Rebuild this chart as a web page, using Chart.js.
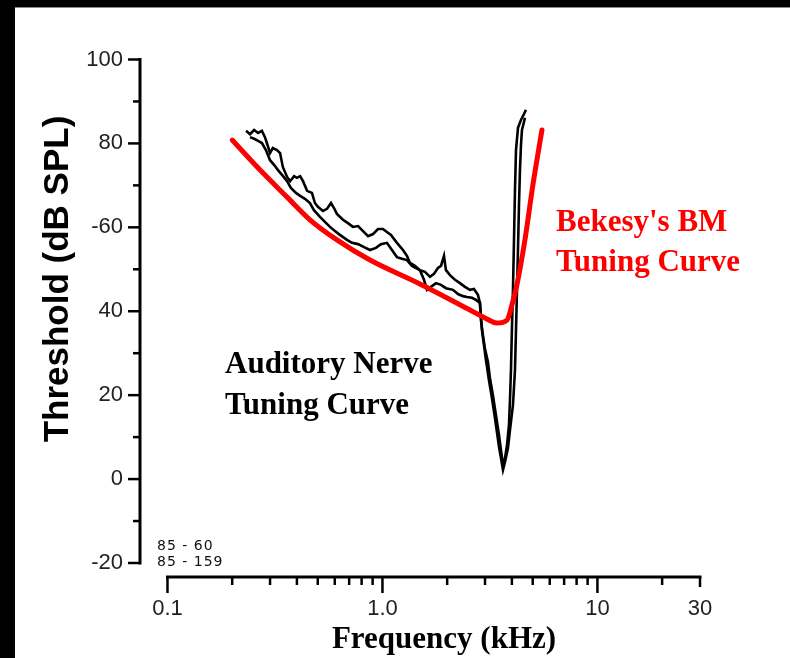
<!DOCTYPE html>
<html>
<head>
<meta charset="utf-8">
<script src="https://cdn.jsdelivr.net/npm/chart.js@4/dist/chart.umd.min.js"></script>
<style>
  html, body { margin: 0; padding: 0; background: #fff; }
  #wrap { width: 790px; height: 658px; }
</style>
</head>
<body>
<div id="wrap"><canvas id="tc" width="790" height="658"></canvas></div>
<script>
// ── DATA ──────────────────────────────────────────────────────────

// Bekesy basilar-membrane tuning curve (kHz, dB SPL)
const bmFreq   = [0.2, 0.269, 0.36, 0.46, 0.614, 0.875, 1.494, 2.553, 3.0, 3.41, 3.80, 4.003, 4.223, 4.60, 5.01, 5.52];
const bmThresh = [80.8, 73.7, 67.2, 61.8, 57.0, 52.2, 46.5, 40.3, 38.4, 37.2, 37.9, 41.5, 46.3, 57.0, 70.1, 83.2];

// auditory nerve fibre, first sweep
const anfFreqA = [0.232, 0.242, 0.253, 0.264, 0.275, 0.284, 0.290, 0.300, 0.309, 0.323, 0.334, 0.344, 0.360, 0.372,
  0.388, 0.400, 0.414, 0.427, 0.446, 0.470, 0.485, 0.501, 0.529, 0.552, 0.576, 0.595, 0.614, 0.655, 0.691, 0.729,
  0.770, 0.812, 0.857, 0.904, 0.953, 1.005, 1.049, 1.095, 1.168, 1.246, 1.300, 1.343, 1.416, 1.494, 1.576, 1.664,
  1.736, 1.812, 1.872, 1.933, 1.974, 2.061, 2.174, 2.294, 2.419, 2.552, 2.664, 2.780, 2.841, 2.871, 2.933, 2.995,
  3.095, 3.162, 3.265, 3.371, 3.484, 3.559, 3.636, 3.715, 3.796, 3.877, 3.919, 3.961, 4.000, 4.047, 4.091, 4.135,
  4.180, 4.270, 4.409, 4.553, 4.652];
const anfThreshA = [83.0, 82.2, 83.2, 82.5, 83.0, 81.5, 80.1, 77.7, 78.9, 78.4, 77.7, 74.4, 72.0, 71.0,
  72.2, 71.8, 72.2, 71.0, 68.7, 68.2, 65.8, 64.9, 63.9, 64.4, 65.8, 64.6, 63.2, 61.8, 61.0, 60.1,
  60.3, 59.1, 57.9, 58.4, 59.6, 59.6, 58.9, 58.2, 56.3, 54.6, 53.2, 51.5, 50.8, 49.8, 49.4, 48.2,
  48.9, 50.3, 50.8, 53.2, 49.8, 48.6, 47.5, 46.7, 45.8, 45.1, 45.3, 43.9, 42.0, 37.9, 34.3, 31.2,
  27.9, 24.1, 20.0, 15.3, 10.5, 6.9, 3.4, 5.0, 8.1, 12.9, 18.9, 26.0, 35.5, 45.1, 57.0, 68.9,
  78.4, 83.7, 85.6, 87.0, 88.0];

// auditory nerve fibre, second sweep
const anfFreqB = [0.242, 0.253, 0.264, 0.275, 0.287, 0.300, 0.313, 0.326, 0.341, 0.360, 0.375, 0.396, 0.414, 0.436,
  0.460, 0.480, 0.512, 0.540, 0.570, 0.601, 0.634, 0.684, 0.721, 0.770, 0.821, 0.875, 0.933, 0.984, 1.049, 1.107,
  1.168, 1.232, 1.300, 1.372, 1.432, 1.494, 1.560, 1.611, 1.681, 1.774, 1.872, 1.974, 2.128, 2.245, 2.369, 2.472,
  2.608, 2.722, 2.841, 2.871, 2.902, 2.965, 3.029, 3.128, 3.230, 3.335, 3.408, 3.484, 3.559, 3.636, 3.715, 3.836,
  3.919, 4.047, 4.135, 4.180, 4.225, 4.270, 4.316, 4.362, 4.409, 4.456, 4.553, 4.600];
const anfThreshB = [81.5, 81.1, 80.6, 80.1, 78.4, 76.0, 74.9, 73.7, 72.5, 71.0, 69.4, 68.2, 67.5, 66.8,
  65.8, 64.1, 62.5, 61.3, 60.1, 59.1, 58.2, 57.0, 56.3, 56.0, 55.3, 54.6, 55.1, 56.0, 56.3, 54.6,
  52.9, 52.5, 52.2, 50.8, 50.3, 49.8, 47.5, 45.1, 45.8, 46.7, 46.3, 45.5, 45.1, 44.1, 43.6, 43.4,
  43.2, 42.7, 42.0, 39.1, 35.5, 32.0, 28.4, 23.6, 19.3, 14.6, 11.2, 7.7, 5.0, 2.2, 4.1, 7.4,
  11.7, 17.7, 26.0, 35.5, 45.1, 54.6, 65.3, 73.7, 79.6, 83.2, 85.1, 86.1];

// axes
const yTicks  = [-20, -10, 0, 10, 20, 30, 40, 50, 60, 70, 80, 90, 100];
const yLabels = { '-20': '-20', '0': '0', '20': '20', '40': '40', '60': '-60', '80': '80', '100': '100' };
const xTicks  = [0.1, 0.2, 0.3, 0.4, 0.5, 0.6, 0.7, 0.8, 0.9, 1, 2, 3, 4, 5, 6, 7, 8, 9, 10, 20, 30];
const xLabels = { '0.1': '0.1', '1': '1.0', '10': '10', '30': '30' };

// ── HELPERS ───────────────────────────────────────────────────────

function pts(xs, ys) {
  return xs.map((x, i) => ({ x, y: ys[i] }));
}

const SANS  = '"Liberation Sans", Arial, sans-serif';
const SERIF = '"Liberation Serif", "Times New Roman", serif';

function txt(ctx, s, x, y, font, color, align = 'left', base = 'alphabetic') {
  ctx.font = font;
  ctx.fillStyle = color;
  ctx.textAlign = align;
  ctx.textBaseline = base;
  ctx.fillText(s, x, y);
}

// frame, axis lines, tick marks and annotations
const decor = {
  id: 'decor',
  beforeDraw(c) {
    const ctx = c.ctx;
    ctx.save();
    ctx.fillStyle = '#fff';
    ctx.fillRect(0, 0, c.width, c.height);
    ctx.fillStyle = '#000';
    ctx.fillRect(0, 0, c.width, 7);
    ctx.fillRect(0, 0, 15, c.height);
    ctx.fillStyle = '#888';
    ctx.fillRect(15, 7, c.width - 15, 1);
    ctx.restore();
  },
  afterDraw(c) {
    const ctx = c.ctx, sx = c.scales.x, sy = c.scales.y;
    const ax = c.chartArea.left, ay = c.chartArea.bottom;
    ctx.save();
    ctx.strokeStyle = '#000';
    ctx.lineCap = 'butt';

    // y axis
    ctx.lineWidth = 3;
    ctx.beginPath();
    ctx.moveTo(ax, sy.getPixelForValue(100) - 1.5);
    ctx.lineTo(ax, sy.getPixelForValue(-20) + 1.5);
    ctx.stroke();
    ctx.lineWidth = 2.5;
    yTicks.forEach(v => {
      const y = sy.getPixelForValue(v);
      const len = v % 20 === 0 ? 12 : 7;
      ctx.beginPath();
      ctx.moveTo(ax - len, y);
      ctx.lineTo(ax, y);
      ctx.stroke();
    });

    // x axis
    ctx.lineWidth = 3;
    ctx.beginPath();
    ctx.moveTo(sx.getPixelForValue(0.1) - 1.5, ay);
    ctx.lineTo(sx.getPixelForValue(30) + 1.5, ay);
    ctx.stroke();
    ctx.lineWidth = 2.5;
    xTicks.forEach(v => {
      const x = sx.getPixelForValue(v);
      let len = 8;
      if (v === 0.1 || v === 1 || v === 10) len = 16;
      else if (v === 30) len = 10;
      ctx.beginPath();
      ctx.moveTo(x, ay);
      ctx.lineTo(x, ay + len);
      ctx.stroke();
    });

    // axis titles
    ctx.save();
    ctx.translate(58, 279);
    ctx.rotate(-Math.PI / 2);
    txt(ctx, 'Threshold (dB SPL)', 0, 0, 'bold 35px ' + SANS, '#000', 'center', 'middle');
    ctx.restore();
    txt(ctx, 'Frequency (kHz)', 444, 648, 'bold 31px ' + SERIF, '#000', 'center');

    // annotations
    txt(ctx, 'Auditory Nerve', 225, 373, 'bold 31px ' + SERIF, '#000');
    txt(ctx, 'Tuning Curve',   225, 414, 'bold 31px ' + SERIF, '#000');
    txt(ctx, "Bekesy's BM",    556, 231, 'bold 31px ' + SERIF, '#ff0000');
    txt(ctx, 'Tuning Curve',   556, 271, 'bold 31px ' + SERIF, '#ff0000');
    ctx.letterSpacing = '1px';
    txt(ctx, '85 - 60',  157, 546, '14px "DejaVu Sans", sans-serif', '#111', 'left', 'middle');
    txt(ctx, '85 - 159', 157, 562, '14px "DejaVu Sans", sans-serif', '#111', 'left', 'middle');
    ctx.restore();
  }
};

// ── CHART ─────────────────────────────────────────────────────────

const lineBase = { showLine: true, pointRadius: 0, fill: false };

new Chart(document.getElementById('tc'), {
  type: 'scatter',
  data: {
    datasets: [
      { ...lineBase, label: "Bekesy's BM", data: pts(bmFreq, bmThresh),
        borderColor: '#ff0000', borderWidth: 5, cubicInterpolationMode: 'monotone',
        borderCapStyle: 'round', borderJoinStyle: 'round' },
      { ...lineBase, label: 'ANF 1', data: pts(anfFreqA, anfThreshA),
        borderColor: '#000', borderWidth: 2.6, tension: 0 },
      { ...lineBase, label: 'ANF 2', data: pts(anfFreqB, anfThreshB),
        borderColor: '#000', borderWidth: 2.6, tension: 0 },
    ],
  },
  options: {
    responsive: false,
    animation: false,
    devicePixelRatio: 1,
    layout: { padding: { left: 0, top: 59.5, right: 90, bottom: 0 } },
    plugins: { legend: { display: false }, tooltip: { enabled: false } },
    scales: {
      x: {
        type: 'logarithmic',
        min: 0.0745, max: 30,
        grid: { display: false, drawTicks: false },
        border: { display: false },
        afterBuildTicks: s => { s.ticks = xTicks.map(v => ({ value: v })); },
        afterFit: s => { s.height = 81; },
        ticks: {
          autoSkip: false, maxRotation: 0, padding: 19,
          color: '#222', font: { family: SANS, size: 22 },
          callback: v => xLabels[String(v)] || '',
        },
      },
      y: {
        min: -23.34, max: 100,
        grid: { display: false, drawTicks: false },
        border: { display: false },
        afterBuildTicks: s => { s.ticks = yTicks.map(v => ({ value: v })); },
        afterFit: s => { s.width = 140; },
        ticks: {
          autoSkip: false, padding: 17,
          color: '#222', font: { family: SANS, size: 22 },
          callback: v => yLabels[String(v)] || '',
        },
      },
    },
  },
  plugins: [decor],
});
</script>
</body>
</html>
